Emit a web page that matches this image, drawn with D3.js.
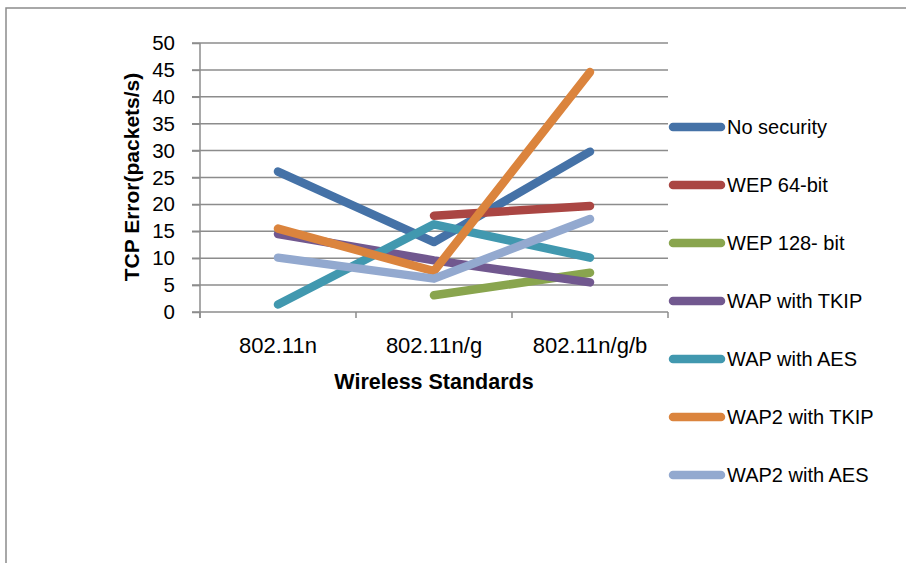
<!DOCTYPE html>
<html><head><meta charset="utf-8">
<script src="https://d3js.org/d3.v7.min.js"></script>
<style>body{margin:0;background:#fff}svg{display:block;font-family:"Liberation Sans",Arial,sans-serif}</style>
</head><body>
<script>
const categories = ["802.11n", "802.11n/g", "802.11n/g/b"];
const seriesNames = ["No security","WEP 64-bit","WEP 128- bit","WAP with TKIP","WAP with AES","WAP2 with TKIP","WAP2 with AES"];
const noSecurity = [26.1, 13.0, 29.8];
const wep64 = [null, 17.9, 19.7];
const wep128 = [null, 3.1, 7.3];
const wapTkip = [14.5, 9.6, 5.5];
const wapAes = [1.4, 16.3, 10.1];
const wap2Tkip = [15.5, 7.6, 44.6];
const wap2Aes = [10.1, 6.2, 17.3];
const yTicks = [0,5,10,15,20,25,30,35,40,45,50];
const colors = ["#4572A7","#AA4643","#89A54E","#71588F","#4198AF","#DB843D","#93A9CF"];
const seriesValues = [noSecurity, wep64, wep128, wapTkip, wapAes, wap2Tkip, wap2Aes];

(function(){
const W = 906, H = 563;
const svg = d3.select("body").append("svg").attr("width", W).attr("height", H);

// outer frame
svg.append("path").attr("d", "M6,563 V8 H906").attr("fill","none").attr("stroke","#8c8c8c").attr("stroke-width",1.5);

const pL = 200, pR = 668, pT = 43, pB = 312;
const x = d3.scaleBand().domain(categories).range([pL, pR]).padding(0);
const y = d3.scaleLinear().domain([0, 50]).range([pB, pT]);
const grid = "#8c8c8c";

// gridlines
svg.append("g").selectAll("line").data(yTicks).join("line")
  .attr("x1", pL - 8).attr("x2", pR)
  .attr("y1", d => y(d)).attr("y2", d => y(d))
  .attr("stroke", grid).attr("stroke-width", 1.5);

// y axis
const yAxis = svg.append("g").attr("transform", `translate(${pL},0)`)
  .call(d3.axisLeft(y).tickValues(yTicks).tickSize(8).tickPadding(17));
yAxis.select(".domain").attr("stroke", grid).attr("stroke-width", 1.5).attr("d", `M0,${pT}V${pB + 6}`);
yAxis.selectAll(".tick line").attr("stroke", grid).attr("stroke-width", 1.5);
yAxis.selectAll("text").attr("font-size", 20.5).attr("fill", "#000").attr("font-family", "Liberation Sans, Arial, sans-serif");

// x axis
const xAxis = svg.append("g").attr("transform", `translate(0,${pB})`)
  .call(d3.axisBottom(x).tickSize(0).tickPadding(25));
xAxis.select(".domain").remove();
xAxis.selectAll("text").attr("font-size", 22).attr("fill", "#000").attr("font-family", "Liberation Sans, Arial, sans-serif");
const boundaries = [...categories.map(c => x(c)), x(categories[categories.length-1]) + x.bandwidth()];
svg.append("g").selectAll("line").data(boundaries).join("line")
  .attr("x1", d => d).attr("x2", d => d).attr("y1", pB).attr("y2", pB + 6)
  .attr("stroke", grid).attr("stroke-width", 1.5);

// axis titles
svg.append("text").attr("x", (pL + pR) / 2).attr("y", 389).attr("text-anchor", "middle")
  .attr("font-weight", "bold").attr("font-size", 21.5).text("Wireless Standards");
svg.append("text").attr("transform", "translate(139,177) rotate(-90)").attr("text-anchor", "middle")
  .attr("font-weight", "bold").attr("font-size", 21).text("TCP Error(packets/s)");

// lines
const line = d3.line()
  .defined(d => d.v != null)
  .x(d => x(d.c) + x.bandwidth() / 2)
  .y(d => y(d.v));
seriesValues.forEach((vals, i) => {
  const data = categories.map((c, j) => ({c, v: vals[j]}));
  svg.append("path").datum(data).attr("d", line)
    .attr("fill", "none").attr("stroke", colors[i]).attr("stroke-width", 8.5)
    .attr("stroke-linecap", "round").attr("stroke-linejoin", "round");
});

// legend
const lg = svg.append("g");
seriesNames.forEach((name, i) => {
  const ly = 127 + i * 58;
  lg.append("line").attr("x1", 673).attr("x2", 721).attr("y1", ly).attr("y2", ly)
    .attr("stroke", colors[i]).attr("stroke-width", 8.5).attr("stroke-linecap", "round");
  lg.append("text").attr("x", 727).attr("y", ly).attr("dy", "0.35em")
    .attr("font-size", 20).attr("fill", "#000").text(name);
});
})();
</script>
</body></html>
